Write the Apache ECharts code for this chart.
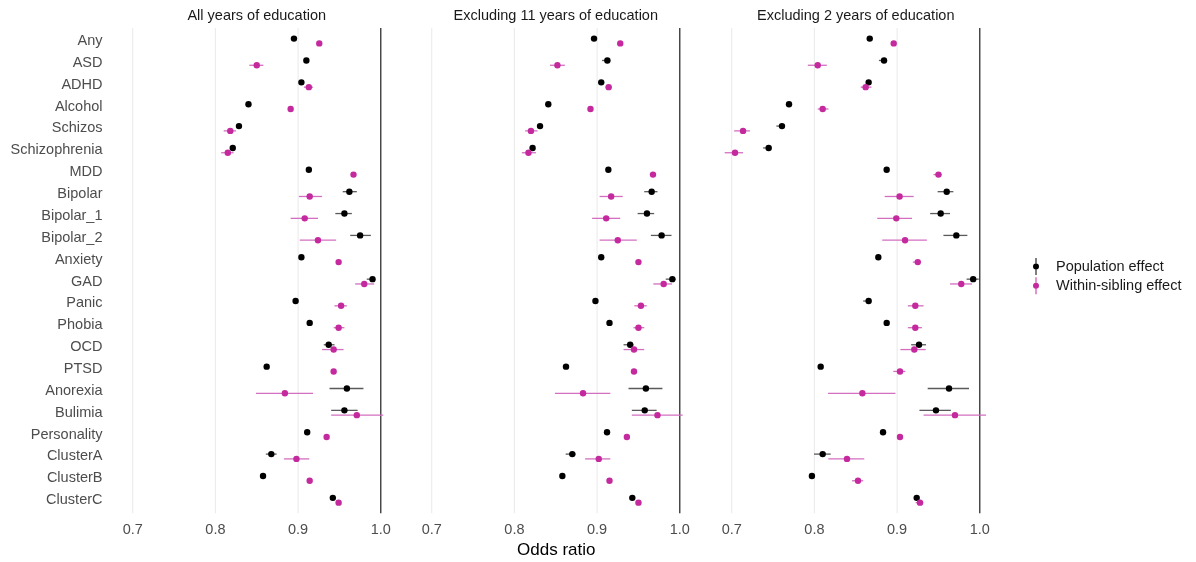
<!DOCTYPE html>
<html><head><meta charset="utf-8">
<script src="https://cdn.jsdelivr.net/npm/echarts@6/dist/echarts.min.js"></script>
<style>html,body{margin:0;padding:0;background:#fff}#c{width:1196px;height:562px}</style>
</head><body><div id="c"></div>
<script>
const categories = ['Any','ASD','ADHD','Alcohol','Schizos','Schizophrenia','MDD','Bipolar','Bipolar_1','Bipolar_2','Anxiety','GAD','Panic','Phobia','OCD','PTSD','Anorexia','Bulimia','Personality','ClusterA','ClusterB','ClusterC'];
const panelTitles = ['All years of education','Excluding 11 years of education','Excluding 2 years of education'];
const xTicks = [0.7, 0.8, 0.9, 1.0];
const seriesNames = ['Population effect','Within-sibling effect'];

// Panel 1: All years of education
const pop1   = [0.895,0.910,0.904,0.840,0.8285,0.821,0.913,0.962,0.956,0.975,0.904,0.990,0.897,0.914,0.937,0.862,0.959,0.956,0.911,0.8676,0.8576,0.942];
const pop1Lo = [0.893,0.907,0.902,0.838,0.826,0.818,0.911,0.954,0.945,0.963,0.902,0.983,0.895,0.912,0.931,0.860,0.938,0.940,0.909,0.861,0.855,0.939];
const pop1Hi = [0.897,0.913,0.906,0.842,0.831,0.824,0.915,0.971,0.965,0.988,0.906,0.993,0.899,0.916,0.944,0.864,0.979,0.972,0.913,0.874,0.860,0.945];
const sib1   = [0.9256,0.850,0.913,0.891,0.818,0.815,0.967,0.914,0.908,0.924,0.949,0.980,0.952,0.949,0.943,0.943,0.884,0.971,0.9345,0.898,0.914,0.949];
const sib1Lo = [0.923,0.841,0.907,0.889,0.810,0.807,0.965,0.901,0.891,0.902,0.947,0.969,0.944,0.943,0.929,0.941,0.849,0.940,0.932,0.883,0.912,0.946];
const sib1Hi = [0.928,0.858,0.918,0.893,0.825,0.822,0.969,0.929,0.924,0.946,0.951,0.992,0.959,0.956,0.955,0.945,0.918,1.003,0.937,0.9135,0.916,0.952];

// Panel 2: Excluding 11 years of education
const pop2   = [0.8963,0.9124,0.905,0.841,0.831,0.822,0.9136,0.966,0.9603,0.978,0.905,0.991,0.898,0.915,0.940,0.8624,0.959,0.9576,0.912,0.870,0.858,0.9426];
const pop2Lo = [0.894,0.906,0.903,0.839,0.829,0.820,0.911,0.957,0.949,0.965,0.903,0.983,0.896,0.913,0.932,0.860,0.938,0.942,0.910,0.862,0.856,0.940];
const pop2Hi = [0.898,0.916,0.907,0.843,0.833,0.824,0.916,0.973,0.969,0.990,0.907,0.995,0.900,0.917,0.944,0.865,0.979,0.972,0.914,0.874,0.860,0.945];
const sib2   = [0.928,0.852,0.914,0.892,0.820,0.817,0.9676,0.917,0.911,0.925,0.950,0.9805,0.953,0.950,0.9446,0.9446,0.883,0.973,0.936,0.902,0.915,0.950];
const sib2Lo = [0.926,0.843,0.910,0.890,0.813,0.809,0.965,0.903,0.894,0.903,0.948,0.968,0.945,0.944,0.932,0.942,0.849,0.942,0.934,0.8855,0.913,0.948];
const sib2Hi = [0.930,0.861,0.918,0.894,0.828,0.826,0.970,0.931,0.928,0.948,0.952,0.9905,0.960,0.957,0.957,0.947,0.916,1.0035,0.938,0.916,0.917,0.952];

// Panel 3: Excluding 2 years of education
const pop3   = [0.8669,0.8842,0.8656,0.7693,0.7608,0.7447,0.8874,0.960,0.9527,0.9716,0.8773,0.992,0.8656,0.8874,0.9265,0.8076,0.9628,0.947,0.883,0.810,0.797,0.9237];
const pop3Lo = [0.865,0.878,0.863,0.767,0.754,0.738,0.885,0.949,0.940,0.956,0.875,0.984,0.859,0.885,0.917,0.805,0.937,0.927,0.881,0.7995,0.795,0.921];
const pop3Hi = [0.869,0.888,0.868,0.772,0.764,0.748,0.890,0.968,0.964,0.985,0.880,0.9987,0.869,0.890,0.935,0.810,0.987,0.965,0.885,0.8197,0.799,0.926];
const sib3   = [0.8959,0.804,0.862,0.810,0.7137,0.704,0.950,0.903,0.899,0.9096,0.925,0.9776,0.922,0.922,0.9208,0.9035,0.858,0.970,0.9035,0.8394,0.8527,0.9277];
const sib3Lo = [0.894,0.792,0.856,0.804,0.703,0.6915,0.944,0.885,0.876,0.882,0.919,0.964,0.913,0.913,0.904,0.8954,0.8165,0.932,0.901,0.8168,0.8455,0.9225];
const sib3Hi = [0.898,0.815,0.869,0.817,0.722,0.7137,0.954,0.920,0.918,0.936,0.929,0.9906,0.932,0.930,0.9346,0.910,0.898,1.0075,0.906,0.8603,0.859,0.9317];

const panels = [
  {pop:[pop1,pop1Lo,pop1Hi], sib:[sib1,sib1Lo,sib1Hi]},
  {pop:[pop2,pop2Lo,pop2Hi], sib:[sib2,sib2Lo,sib2Hi]},
  {pop:[pop3,pop3Lo,pop3Hi], sib:[sib3,sib3Lo,sib3Hi]}
];

const FONT = '"Liberation Sans", Arial, Helvetica, sans-serif';
const GRID_LEFTS = [120.3, 419.3, 719.3];
const GRID_TOP = 30.07, GRID_H = 481.1, GRID_W = 272.9;
const X_MIN = 0.685, X_MAX = 1.015;
const groupStyle = [
  {dot:'#000000', bar:'#5a5a5a', off:-2.4},
  {dot:'#C42A9E', bar:'#D36EC0', off: 2.4}
];

const chart = echarts.init(document.getElementById('c'), null, {renderer:'canvas'});

const grid = [], xAxis = [], yAxis = [], series = [], graphic = [];
GRID_LEFTS.forEach((l, i) => {
  grid.push({left:l, top:GRID_TOP, width:GRID_W, height:GRID_H});
  xAxis.push({type:'value', gridIndex:i, min:X_MIN, max:X_MAX,
    splitLine:{show:false}, axisLine:{show:false}, axisTick:{show:false},
    axisLabel:{customValues:xTicks, formatter:v=>Number(v).toFixed(1), margin:11,
      fontSize:14.5, color:'#4d4d4d', fontFamily:FONT}});
  yAxis.push({type:'category', gridIndex:i, data:categories, inverse:true,
    axisLine:{show:false}, axisTick:{show:false}, splitLine:{show:false},
    axisLabel:{show:i===0, margin:17.8, fontSize:14.5, color:'#4d4d4d', fontFamily:FONT}});
  // vertical gridlines
  const vline = (color, width) => function(params, api){
    const x = api.coord([api.value(0), 0])[0];
    const cs = params.coordSys;
    const ext = cs.height / categories.length * 0.1;
    return {type:'line', shape:{x1:x, y1:cs.y - ext, x2:x, y2:cs.y + cs.height + ext},
      style:{stroke:color, lineWidth:width}};
  };
  series.push({type:'custom', xAxisIndex:i, yAxisIndex:i, silent:true, z:1,
    data:xTicks.map(v=>[v,0]), encode:{x:0,y:1}, renderItem:vline('#ebebeb',1.1)});
  series.push({type:'custom', xAxisIndex:i, yAxisIndex:i, silent:true, z:2,
    data:[[1.0,0]], encode:{x:0,y:1}, renderItem:vline('#111111',1.1)});
  const P = panels[i];
  [P.pop, P.sib].forEach((arrs, g) => {
    const st = groupStyle[g];
    series.push({type:'custom', name:seriesNames[g], xAxisIndex:i, yAxisIndex:i, z:3+g,
      itemStyle:{color:st.dot},
      data:categories.map((c, k) => [arrs[0][k], arrs[1][k], arrs[2][k], k]),
      encode:{x:[0,1,2], y:3},
      renderItem:function(params, api){
        const idx = api.value(3);
        const p = api.coord([api.value(0), idx]);
        const pl = api.coord([api.value(1), idx]);
        const ph = api.coord([api.value(2), idx]);
        const y = p[1] + st.off;
        return {type:'group', children:[
          {type:'line', shape:{x1:pl[0], y1:y, x2:ph[0], y2:y}, style:{stroke:st.bar, lineWidth:1.3}},
          {type:'circle', shape:{cx:p[0], cy:y, r:3.2}, style:{fill:st.dot}}
        ]};
      }});
  });
  graphic.push({type:'text', x:l + GRID_W/2, y:15.5, style:{text:panelTitles[i], textAlign:'center',
    textVerticalAlign:'middle', fontSize:14.5, fill:'#1a1a1a', fontFamily:FONT}});
});
graphic.push({type:'text', x:(GRID_LEFTS[0] + GRID_LEFTS[2] + GRID_W)/2, y:550, style:{text:'Odds ratio',
  textAlign:'center', textVerticalAlign:'middle', fontSize:17, fill:'#000000', fontFamily:FONT}});

const ICON = 'path://M3.5,0 L4.5,0 L4.5,17 L3.5,17 Z M4,5.5 A3,3 0 1 1 4,11.5 A3,3 0 1 1 4,5.5 Z';

chart.setOption({
  animation:false,
  backgroundColor:'#ffffff',
  grid, xAxis, yAxis, series, graphic,
  legend:{orient:'vertical', left:1028, top:253, itemWidth:30, itemHeight:17, itemGap:2.3,
    selectedMode:false,
    data:seriesNames.map(n=>({name:n, icon:ICON})),
    textStyle:{fontSize:14.5, color:'#1a1a1a', fontFamily:FONT}}
});
</script></body></html>
